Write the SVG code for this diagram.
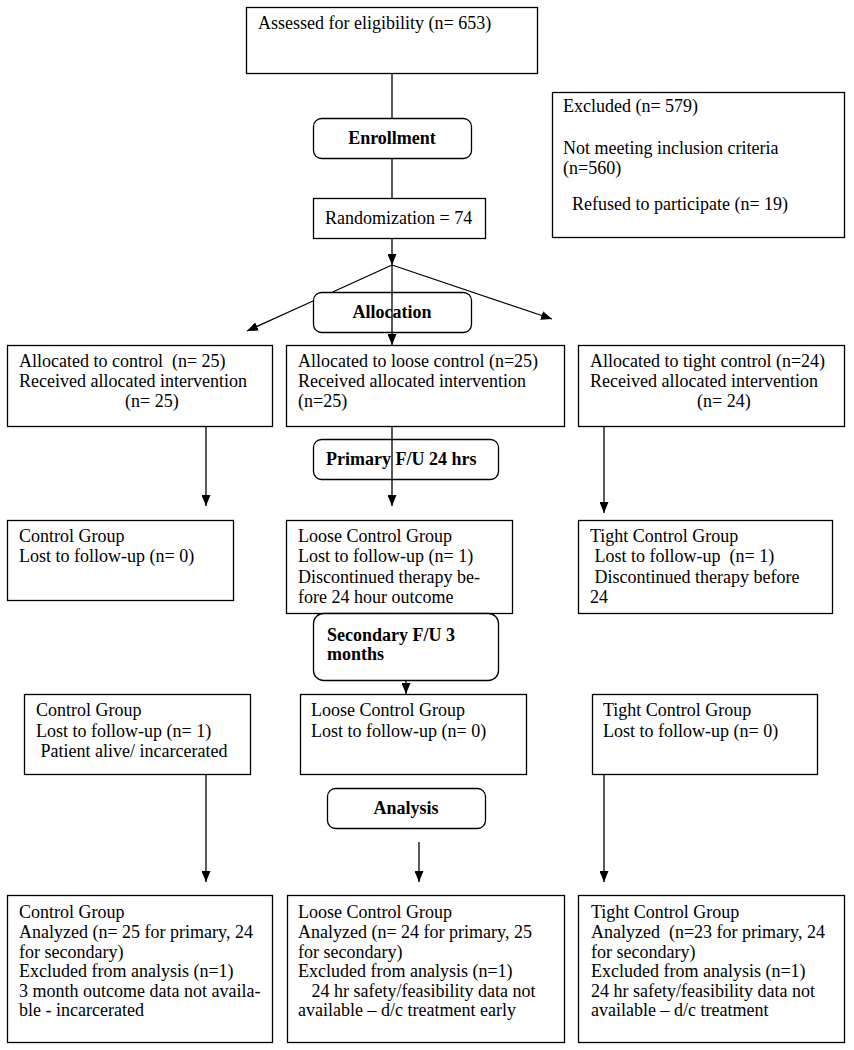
<svg xmlns="http://www.w3.org/2000/svg" width="854" height="1050" viewBox="0 0 854 1050">
<style>
.box{fill:#fff;stroke:#000;stroke-width:1.3}
.rbox{fill:#fff;stroke:#000;stroke-width:1.3}
text{font-family:"Liberation Serif","Times New Roman",serif;font-size:18px;fill:#000;white-space:pre}
.b{font-weight:bold}
.c{text-anchor:middle}
.ln{stroke:#000;stroke-width:1.3;fill:none}
.ar{stroke:#000;stroke-width:1.3;fill:none;marker-end:url(#ah)}
</style>
<defs>
<marker id="ah" markerUnits="userSpaceOnUse" markerWidth="11" markerHeight="9" refX="11" refY="4.5" orient="auto">
<path d="M0,0 L11,4.5 L0,9 z" fill="#000"/>
</marker>
</defs>
<rect width="854" height="1050" fill="#fff"/>

<g id="connectors-back">
<line class="ln" x1="392" y1="265" x2="332.7" y2="292"/>
<line class="ar" x1="313" y1="301" x2="247" y2="331"/>
<line class="ar" x1="392" y1="265" x2="552" y2="319"/>
</g>

<g id="assessed">
<rect class="box" x="246.5" y="7.5" width="291" height="66"/>
<text x="258" y="29" xml:space="preserve">Assessed for eligibility (n= 653)</text>
</g>

<g id="excluded">
<rect class="box" x="552.5" y="92.5" width="292" height="145"/>
<text x="563" y="112" xml:space="preserve">Excluded (n= 579)</text>
<text x="563" y="154" xml:space="preserve">Not meeting inclusion criteria</text>
<text x="563" y="174" xml:space="preserve">(n=560)</text>
<text x="563" y="210" xml:space="preserve">  Refused to participate (n= 19)</text>
</g>

<g id="enrollment">
<rect class="rbox" x="313.5" y="118.5" width="158" height="40" rx="8"/>
<text class="b c" x="392" y="144">Enrollment</text>
</g>

<g id="randomization">
<rect class="box" x="313.5" y="198.5" width="172" height="40"/>
<text x="325" y="224" xml:space="preserve">Randomization = 74</text>
</g>

<g id="allocation">
<rect class="rbox" x="313.5" y="292.5" width="158" height="40" rx="8"/>
<text class="b c" x="392" y="318">Allocation</text>
</g>

<g id="alloc-control">
<rect class="box" x="7.5" y="345.5" width="265" height="81"/>
<text x="19" y="367" xml:space="preserve">Allocated to control  (n= 25)</text>
<text x="19" y="387" xml:space="preserve">Received allocated intervention</text>
<text x="125" y="407" xml:space="preserve">(n= 25)</text>
</g>

<g id="alloc-loose">
<rect class="box" x="286.5" y="345.5" width="278" height="81"/>
<text x="298" y="367" xml:space="preserve">Allocated to loose control (n=25)</text>
<text x="298" y="387" xml:space="preserve">Received allocated intervention</text>
<text x="298" y="407" xml:space="preserve">(n=25)</text>
</g>

<g id="alloc-tight">
<rect class="box" x="578.5" y="345.5" width="266" height="81"/>
<text x="590" y="367" xml:space="preserve">Allocated to tight control (n=24)</text>
<text x="590" y="387" xml:space="preserve">Received allocated intervention</text>
<text x="697" y="407" xml:space="preserve">(n= 24)</text>
</g>

<g id="primary-fu">
<rect class="rbox" x="313.5" y="439.5" width="185" height="40" rx="8"/>
<text class="b" x="326" y="465" xml:space="preserve">Primary F/U 24 hrs</text>
</g>

<g id="fu-control">
<rect class="box" x="7.5" y="520.5" width="226" height="80"/>
<text x="19" y="542" xml:space="preserve">Control Group</text>
<text x="19" y="562" xml:space="preserve">Lost to follow-up (n= 0)</text>
</g>

<g id="fu-loose">
<rect class="box" x="286.5" y="520.5" width="226" height="93"/>
<text x="298" y="542" xml:space="preserve">Loose Control Group</text>
<text x="298" y="562" xml:space="preserve">Lost to follow-up (n= 1)</text>
<text x="298" y="583" xml:space="preserve">Discontinued therapy be-</text>
<text x="298" y="603" xml:space="preserve">fore 24 hour outcome</text>
</g>

<g id="fu-tight">
<rect class="box" x="578.5" y="520.5" width="254" height="93"/>
<text x="590" y="542" xml:space="preserve">Tight Control Group</text>
<text x="590" y="562" xml:space="preserve"> Lost to follow-up  (n= 1)</text>
<text x="590" y="583" xml:space="preserve"> Discontinued therapy before</text>
<text x="590" y="603" xml:space="preserve">24</text>
</g>

<g id="secondary-fu">
<rect class="rbox" x="313.5" y="613.5" width="185" height="67" rx="10"/>
<text class="b" x="327" y="641" xml:space="preserve">Secondary F/U 3</text>
<text class="b" x="327" y="660" xml:space="preserve">months</text>
</g>

<g id="sec-control">
<rect class="box" x="24.5" y="694.5" width="226" height="80"/>
<text x="36" y="716" xml:space="preserve">Control Group</text>
<text x="36" y="737" xml:space="preserve">Lost to follow-up (n= 1)</text>
<text x="36" y="757" xml:space="preserve"> Patient alive/ incarcerated</text>
</g>

<g id="sec-loose">
<rect class="box" x="300.5" y="694.5" width="226" height="80"/>
<text x="311" y="716" xml:space="preserve">Loose Control Group</text>
<text x="311" y="737" xml:space="preserve">Lost to follow-up (n= 0)</text>
</g>

<g id="sec-tight">
<rect class="box" x="592.5" y="694.5" width="225" height="80"/>
<text x="603" y="716" xml:space="preserve">Tight Control Group</text>
<text x="603" y="737" xml:space="preserve">Lost to follow-up (n= 0)</text>
</g>

<g id="analysis">
<rect class="rbox" x="327.5" y="788.5" width="158" height="40" rx="8"/>
<text class="b c" x="406" y="814">Analysis</text>
</g>

<g id="an-control">
<rect class="box" x="7.5" y="895.5" width="265" height="147"/>
<text x="19" y="918" xml:space="preserve">Control Group</text>
<text x="19" y="938" xml:space="preserve">Analyzed (n= 25 for primary, 24</text>
<text x="19" y="958" xml:space="preserve">for secondary)</text>
<text x="19" y="977" xml:space="preserve">Excluded from analysis (n=1)</text>
<text x="19" y="997" xml:space="preserve">3 month outcome data not availa-</text>
<text x="19" y="1016" xml:space="preserve">ble - incarcerated</text>
</g>

<g id="an-loose">
<rect class="box" x="287.5" y="895.5" width="277" height="147"/>
<text x="298" y="918" xml:space="preserve">Loose Control Group</text>
<text x="298" y="938" xml:space="preserve">Analyzed (n= 24 for primary, 25</text>
<text x="298" y="958" xml:space="preserve">for secondary)</text>
<text x="298" y="977" xml:space="preserve">Excluded from analysis (n=1)</text>
<text x="298" y="997" xml:space="preserve">   24 hr safety/feasibility data not</text>
<text x="298" y="1016" xml:space="preserve">available – d/c treatment early</text>
</g>

<g id="an-tight">
<rect class="box" x="578.5" y="895.5" width="266" height="147"/>
<text x="591" y="918" xml:space="preserve">Tight Control Group</text>
<text x="591" y="938" xml:space="preserve">Analyzed  (n=23 for primary, 24</text>
<text x="591" y="958" xml:space="preserve">for secondary)</text>
<text x="591" y="977" xml:space="preserve">Excluded from analysis (n=1)</text>
<text x="591" y="997" xml:space="preserve">24 hr safety/feasibility data not</text>
<text x="591" y="1016" xml:space="preserve">available – d/c treatment</text>
</g>

<g id="connectors">
<line class="ln" x1="392" y1="74" x2="392" y2="118"/>
<line class="ln" x1="392" y1="159" x2="392" y2="198"/>
<line class="ar" x1="392" y1="239" x2="392" y2="265"/>
<line class="ar" x1="392" y1="265" x2="392" y2="345"/>
<line class="ar" x1="206" y1="427" x2="206" y2="506"/>
<line class="ar" x1="392" y1="427" x2="392" y2="506"/>
<line class="ar" x1="604" y1="427" x2="604" y2="513"/>
<line class="ar" x1="406" y1="681" x2="406" y2="694"/>
<line class="ar" x1="206" y1="775" x2="206" y2="882"/>
<line class="ar" x1="419" y1="842" x2="419" y2="882"/>
<line class="ar" x1="604" y1="775" x2="604" y2="882"/>
</g>
</svg>
